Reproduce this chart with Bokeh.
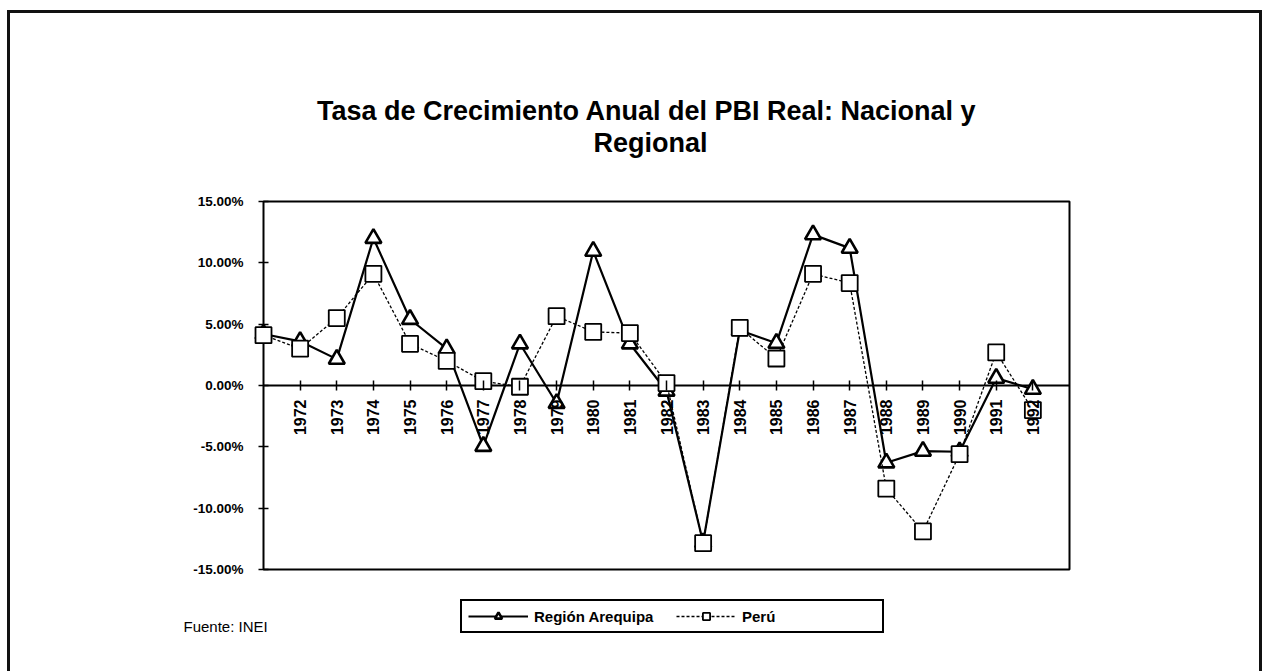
import math
from bokeh.plotting import figure
from bokeh.models import (Range1d, FixedTicker, PrintfTickFormatter, Label, Legend, LegendItem)
from bokeh.embed import file_html
from bokeh.resources import INLINE

years = list(range(1971, 1993))
arequipa = [4.2, 3.6, 2.15, 12.0, 5.4, 3.0, -4.95, 3.4, -1.45, 10.95, 3.4, -0.45,
            -12.8, 4.5, 3.45, 12.3, 11.2, -6.3, -5.35, -5.4, 0.6, -0.3]
peru = [4.1, 3.0, 5.5, 9.1, 3.4, 2.0, 0.35, -0.1, 5.65, 4.37, 4.27, 0.2,
        -12.85, 4.7, 2.2, 9.1, 8.35, -8.4, -11.9, -5.6, 2.7, -2.0]
y_ticks = [-15, -10, -5, 0, 5, 10, 15]
x_tick_years = years[1:]
title_lines = ["Tasa de Crecimiento Anual del  PBI Real: Nacional y", "Regional"]
source_text = "Fuente: INEI"
series_names = ["Región Arequipa", "Perú"]

FONT = "Liberation Sans"
W, H = 1262, 671
# plot-area placement on the canvas (pixels)
PX_LEFT, PX_RIGHT, PX_TOP, PX_BOTTOM = 263, 1069, 201, 569

x0, x1 = years[0], years[-1] + 1
y0, y1 = y_ticks[0], y_ticks[-1]
xs = (PX_RIGHT - PX_LEFT) / (x1 - x0)
ys = (PX_BOTTOM - PX_TOP) / (y1 - y0)

p = figure(width=W, height=H, output_backend="svg", toolbar_location=None,
           x_range=Range1d(x0 - PX_LEFT / xs, x0 + (W - PX_LEFT) / xs),
           y_range=Range1d(y0 - (H - PX_BOTTOM) / ys, y1 + PX_TOP / ys),
           min_border_left=0, min_border_right=0, min_border_top=0, min_border_bottom=0)
p.styles = {"box-shadow": "inset 7px 0 0 white, inset 0 10px 0 white, "
                          "inset 10px 0 0 #111, inset 0 13px 0 #111, inset -3px 0 0 #111"}
p.background_fill_color = None
p.border_fill_color = None
p.outline_line_color = None
p.xgrid.visible = False
p.ygrid.visible = False

# plot-area box and zero line
p.quad(left=[x0], right=[x1], bottom=[y0], top=[y1], fill_color=None,
       line_color="black", line_width=2)
p.segment(x0=[x0], x1=[x1], y0=[0], y1=[0], line_color="black", line_width=2)

# y axis, fixed on the first category
p.yaxis.fixed_location = x0
p.yaxis.ticker = FixedTicker(ticks=y_ticks)
p.yaxis.formatter = PrintfTickFormatter(format="%.2f%%")
p.yaxis.major_label_text_font = FONT
p.yaxis.major_label_text_font_style = "bold"
p.yaxis.major_label_text_font_size = "13.5px"
p.yaxis.major_label_text_color = "black"
p.yaxis.major_tick_in = 5
p.yaxis.major_tick_out = 5
p.yaxis.major_tick_line_width = 1.5
p.yaxis.minor_tick_line_color = None
p.yaxis.axis_line_color = None
p.yaxis.major_label_standoff = 15

# x axis crossing at zero
p.xaxis.fixed_location = 0
p.xaxis.ticker = FixedTicker(ticks=x_tick_years)
p.xaxis.major_label_orientation = math.pi / 2
p.xaxis.major_label_text_font = FONT
p.xaxis.major_label_text_font_style = "bold"
p.xaxis.major_label_text_font_size = "16px"
p.xaxis.major_label_text_color = "black"
p.xaxis.major_tick_in = 5
p.xaxis.major_tick_out = 5
p.xaxis.major_tick_line_width = 1.5
p.xaxis.minor_tick_line_color = None
p.xaxis.axis_line_color = None
p.xaxis.major_label_standoff = 9

# series
r1l = p.line(years, arequipa, line_color="black", line_width=2.2)
r1m = p.scatter(years, arequipa, marker="triangle", size=16, line_color="black",
                line_width=2.6, fill_color="white")
r2l = p.line(years, peru, line_color="black", line_width=1.3, line_dash="3 2")
r2m = p.scatter(years, peru, marker="square", size=16, line_color="black",
                line_width=1.8, fill_color="white")

legend = Legend(items=[LegendItem(label=series_names[0], renderers=[r1l, r1m]),
                       LegendItem(label=series_names[1], renderers=[r2l, r2m])],
                orientation="horizontal", location=(460, H - 633))
legend.border_line_color = "black"
legend.border_line_alpha = 1.0
legend.border_line_width = 2
legend.background_fill_color = "white"
legend.background_fill_alpha = 1.0
legend.label_text_font = FONT
legend.label_text_font_style = "bold"
legend.label_text_font_size = "15px"
legend.label_text_color = "black"
legend.label_width = 134
legend.glyph_width = 60
legend.glyph_height = 18
legend.padding = 6
legend.margin = 0
legend.spacing = 8
legend.label_standoff = 6
p.add_layout(legend, "center")

for txt, cy in zip(title_lines, (110, 142)):
    p.add_layout(Label(x=650, y=H - cy, x_units="screen", y_units="screen", text=txt,
                       text_align="center", text_baseline="middle", text_font=FONT,
                       text_font_style="bold", text_font_size="27px", text_color="black"))
p.add_layout(Label(x=183, y=H - 626, x_units="screen", y_units="screen", text=source_text,
                   text_align="left", text_baseline="middle", text_font=FONT,
                   text_font_size="15px", text_color="black"))

open("out.html", "w").write(file_html(p, INLINE))
